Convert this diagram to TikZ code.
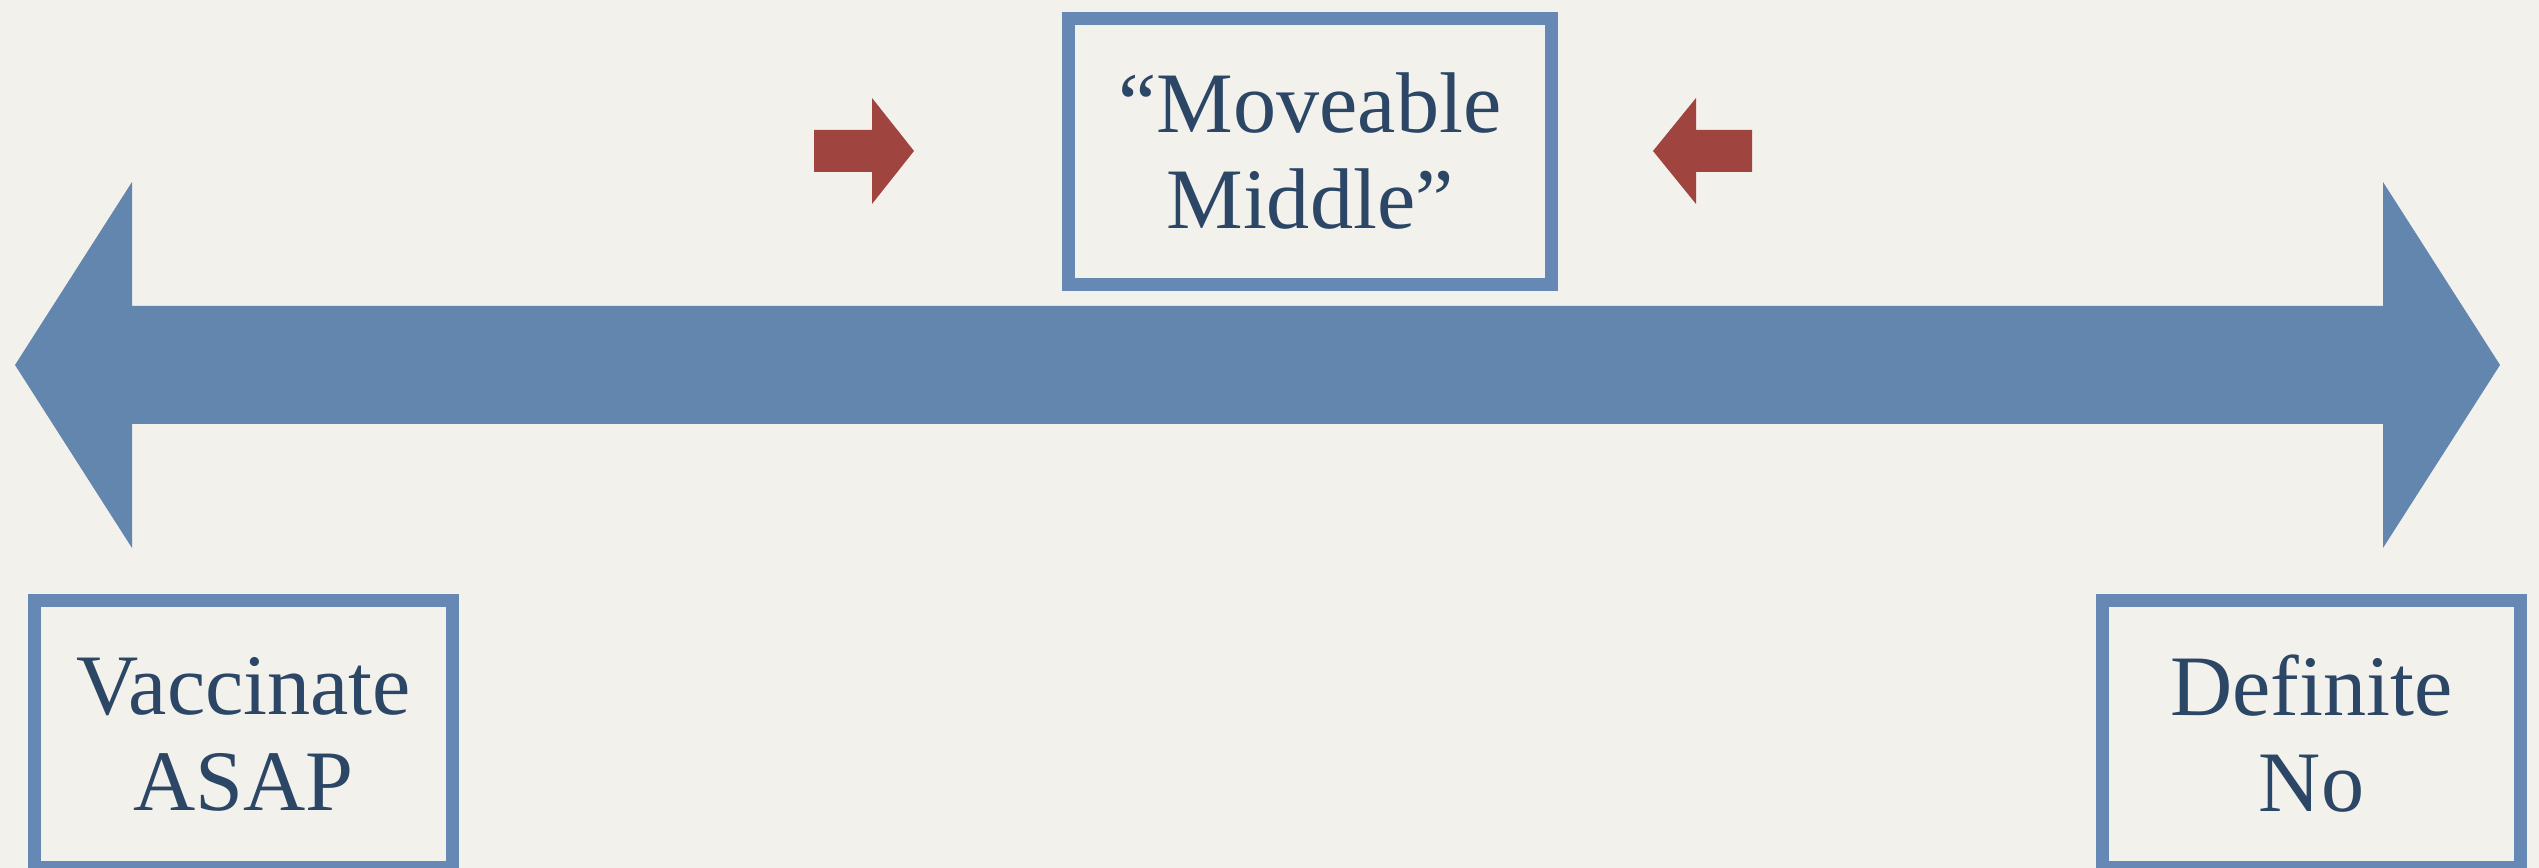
\documentclass[tikz,border=0pt]{standalone}
\usepackage{fontspec}
\setmainfont{Liberation Serif}
\usepackage{xcolor}
\usepackage{tikz}
\usetikzlibrary{positioning}

\definecolor{paper}{RGB}{243,241,236}
\definecolor{frameblue}{RGB}{102,136,181}
\definecolor{axisblue}{RGB}{98,134,174}
\definecolor{inkblue}{RGB}{44,70,102}
\definecolor{pushred}{RGB}{160,68,64}

\begin{document}
\begin{tikzpicture}[x=0.01cm, y=-0.01cm,
        stance/.style={draw=frameblue, line width=0.13cm, align=center,
                       text=inkblue, font=\fontsize{24.5pt}{27.3pt}\selectfont,
                       minimum width=4.18cm, minimum height=2.67cm, inner sep=0pt},
        middle/.style={stance, minimum width=4.83cm, minimum height=2.66cm},
        axis/.style={fill=axisblue},
        push/.style={fill=pushred}
    ]
        \useasboundingbox (0,0) rectangle (2539,868);
        \clip (0,0) rectangle (2539,868);
        \fill[paper] (0,0) rectangle (2539,868);

        % the scale of opinion
        \fill[axis] (15,365) -- (132,182) -- (132,306) -- (2383,306) -- (2383,182)
            -- (2500,365) -- (2383,548) -- (2383,424) -- (132,424) -- (132,548) -- cycle;

        \node[middle] (mid) at (1310,151.5) {“Moveable\\Middle”};
        \node[stance] (yes) at (243.5,734) {Vaccinate\\ASAP};
        \node[stance] (no) at (2311.5,734) {Definite\\No};

        % pushing towards the middle
        \fill[push] (814,130) -- (872,130) -- (872,98) -- (914,151) -- (872,204)
            -- (872,172) -- (814,172) -- cycle;
        \fill[push] (1752,130) -- (1696,130) -- (1696,98) -- (1653,151) -- (1696,204)
            -- (1696,172) -- (1752,172) -- cycle;
    \end{tikzpicture}
\end{document}
